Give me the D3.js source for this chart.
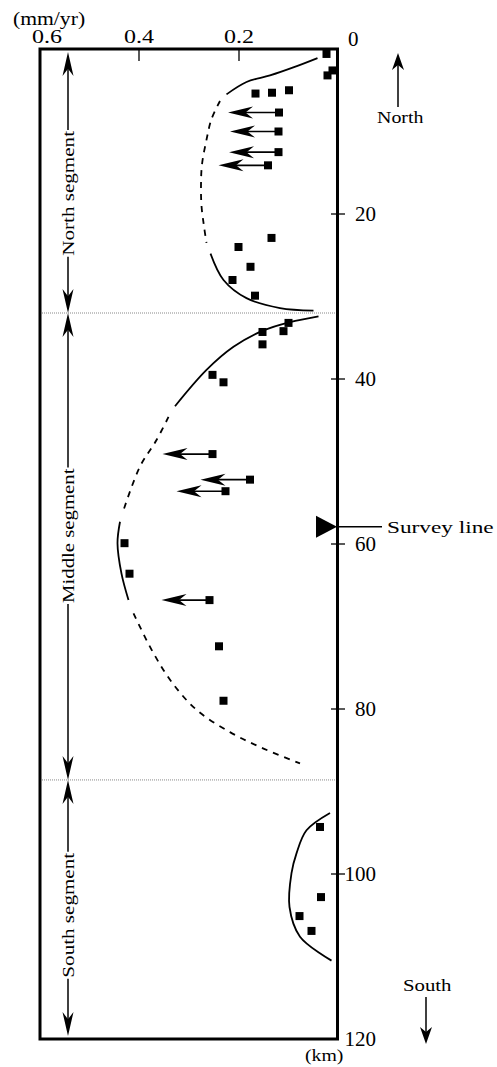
<!DOCTYPE html>
<html lang="en">
<head>
<meta charset="utf-8">
<title>rate profile</title>
<script src="https://d3js.org/d3.v7.min.js"></script>
<style>
html,body {margin:0; padding:0; background:#fff;}
svg {display:block;}
text {font-family:"Liberation Serif", serif; fill:#000;}
</style>
</head>
<body>
<script>
// axes: rate (mm/yr) across the top, distance (km) down the right side
var rateTicks = [0.6, 0.4, 0.2, 0]
var kmTicks = [0, 20, 40, 60, 80, 100, 120]
var segNames = ['North segment', 'Middle segment', 'South segment']
var segBounds = [0, 32, 88.6, 120]
var segLabelKm = [17.5, 59, 105]
var surveyKm = 57.9

// observed points [rate, km]
var squares = [
  [0.025, 0.6], [0.013, 2.6], [0.023, 3.2], [0.167, 5.4], [0.134, 5.3], [0.1, 5.0],
  [0.135, 22.9], [0.201, 24.0], [0.177, 26.4], [0.213, 28.0], [0.168, 29.9],
  [0.101, 33.2], [0.111, 34.2], [0.153, 34.3], [0.153, 35.8], [0.253, 39.5], [0.231, 40.4],
  [0.429, 59.9], [0.419, 63.6], [0.240, 72.4], [0.231, 79.0],
  [0.038, 94.3], [0.036, 102.8], [0.079, 105.1], [0.055, 106.9]
]
// points with arrows [rate, km, rate at arrow tip]
var arrows = [
  [0.12, 7.7, 0.222], [0.121, 10.0, 0.218], [0.121, 12.5, 0.22], [0.142, 14.1, 0.241],
  [0.253, 49.1, 0.353], [0.178, 52.2, 0.277], [0.227, 53.6, 0.325], [0.259, 66.8, 0.355]
]

// fitted curves [rate, km]
var northSolid1 = [[0.043, 1.1], [0.09, 2.2], [0.138, 3.2], [0.185, 4.0], [0.225, 5.5]]
var northDash = [[0.238, 6.3], [0.255, 8.5], [0.265, 11.0], [0.274, 14.0], [0.276, 16.5], [0.275, 19.0], [0.27, 21.5], [0.265, 23.5]]
var northSolid2 = [[0.257, 24.8], [0.231, 28.0], [0.185, 30.2], [0.118, 31.4], [0.051, 31.7]]
var midSolid1 = [[0.041, 32.4], [0.098, 33.1], [0.151, 34.1], [0.211, 36.1], [0.265, 38.9], [0.328, 43.3]]
var midDash1 = [[0.341, 44.6], [0.365, 47.4], [0.398, 50.6], [0.431, 55.9]]
var midSolid2 = [[0.438, 57.3], [0.443, 59.9], [0.435, 63.6], [0.421, 66.8]]
var midDash2 = [[0.411, 68.4], [0.375, 72.8], [0.335, 76.7], [0.285, 80.1], [0.218, 82.8], [0.151, 84.8], [0.078, 86.6]]
var southSolid = [[0.018, 92.6], [0.065, 94.7], [0.085, 97.5], [0.095, 99.9], [0.099, 104.0], [0.078, 107.6], [0.015, 110.5]]

var W = 497, H = 1067
var x = d3.scaleLinear().domain([0.6, 0]).range([39, 339])
var y = d3.scaleLinear().domain([0, 120]).range([49, 1039])

var svg = d3.select('body').append('svg').attr('width', W).attr('height', H)
svg.append('rect').attr('width', W).attr('height', H).attr('fill', '#fff')

// fixed-pitch label in a serif face: each char takes `pitch` px
function label(sel, str, size, pitch) {
  return sel.attr('font-size', size).attr('textLength', str.length * pitch)
    .attr('lengthAdjust', 'spacingAndGlyphs').text(str)
}

// filled arrow head, tip at (tx,ty), pointing along angle a (radians)
function head(tx, ty, a, len, wid) {
  var c = Math.cos(a), s = Math.sin(a)
  function p(u, v) { return [tx - u*c - v*s, ty - u*s + v*c] }
  var pts = [p(0, 0), p(len, -wid/2), p(len*0.7, 0), p(len, wid/2)]
  svg.append('path').attr('d', 'M' + pts.join('L') + 'Z').attr('fill', '#000')
}

// segment boundaries
var x0 = x(0.6), x1 = x(0)
svg.selectAll('.sep').data(segBounds.slice(1, 3)).enter().append('line')
  .attr('x1', x0 + 3).attr('x2', x1 - 2)
  .attr('y1', d => y(d)).attr('y2', d => y(d))
  .attr('stroke', '#888').attr('stroke-width', 1).attr('stroke-dasharray', '1,1')

// frame
svg.append('rect').attr('x', x0 + 1).attr('y', y(0)).attr('width', x1 - x0 - 2.5).attr('height', y(120) - y(0))
  .attr('fill', 'none').attr('stroke', '#000').attr('stroke-width', 3)

// top axis
svg.selectAll('.tt').data(rateTicks.slice(1, 3)).enter().append('line')
  .attr('x1', d => x(d)).attr('x2', d => x(d)).attr('y1', y(0)).attr('y2', y(0) + 12)
  .attr('stroke', '#000').attr('stroke-width', 1.3)
rateTicks.slice(0, 3).forEach(function(d, i) {
  var s = d3.format('.1f')(d)
  label(svg.append('text').attr('x', x(d) + (i === 0 ? 8 : 0) - 15).attr('y', 43), s, 18, 10)
})
svg.append('text').attr('x', 348).attr('y', y(0) - 3).attr('font-size', 21).text('0')
label(svg.append('text').attr('x', 13).attr('y', 25), '(mm/yr)', 18, 10.3)

// right axis
svg.selectAll('.rt').data(kmTicks.slice(1, 6)).enter().append('line')
  .attr('x1', 331).attr('x2', 345).attr('y1', d => y(d)).attr('y2', d => y(d))
  .attr('stroke', '#000').attr('stroke-width', 1.3)
svg.selectAll('.rl').data(kmTicks.slice(1)).enter().append('text')
  .attr('x', 376).attr('y', d => y(d)).attr('dy', '0.34em')
  .attr('text-anchor', 'end').attr('font-size', 21).text(d => d)
label(svg.append('text').attr('x', 305).attr('y', 1061), '(km)', 17, 9.6)

// curves
var line = d3.line().x(d => x(d[0])).y(d => y(d[1])).curve(d3.curveCatmullRom)
;[northSolid1, northSolid2, midSolid1, midSolid2, southSolid].forEach(function(c) {
  svg.append('path').attr('d', line(c)).attr('fill', 'none').attr('stroke', '#000').attr('stroke-width', 1.8)
})
;[northDash, midDash1, midDash2].forEach(function(c) {
  svg.append('path').attr('d', line(c)).attr('fill', 'none').attr('stroke', '#000')
    .attr('stroke-width', 1.8).attr('stroke-dasharray', '6,6')
})

// arrows
arrows.forEach(function(d) {
  svg.append('line').attr('x1', x(d[0])).attr('x2', x(d[2]) + 15).attr('y1', y(d[1])).attr('y2', y(d[1]))
    .attr('stroke', '#000').attr('stroke-width', 1.6)
  head(x(d[2]), y(d[1]), Math.PI, 25, 12)
})

// squares
svg.selectAll('.sq').data(squares.concat(arrows)).enter().append('rect')
  .attr('x', d => x(d[0]) - 4).attr('y', d => y(d[1]) - 4)
  .attr('width', 8).attr('height', 8).attr('fill', '#000')

// segment labels with double arrows
var sx = 68
segNames.forEach(function(name, i) {
  var a = y(segBounds[i]) + (i === 0 ? 3 : 0), b = y(segBounds[i + 1]) - (i === 2 ? 3 : 0)
  var c = y(segLabelKm[i]), half = name.length * 9.6 / 2 + 1
  svg.append('line').attr('x1', sx).attr('x2', sx).attr('y1', a + 10).attr('y2', c - half)
    .attr('stroke', '#000').attr('stroke-width', 1.5)
  svg.append('line').attr('x1', sx).attr('x2', sx).attr('y1', c + half).attr('y2', b - 10)
    .attr('stroke', '#000').attr('stroke-width', 1.5)
  head(sx, a, -Math.PI / 2, 24, 11)
  head(sx, b, Math.PI / 2, 24, 11)
  label(svg.append('text').attr('transform', 'translate(' + (sx + 6) + ',' + (c + half - 1) + ') rotate(-90)'),
    name, 17, 9.6)
})

// survey line marker
var ys = y(surveyKm)
svg.append('path').attr('d', 'M316,' + (ys - 11) + 'L337,' + ys + 'L316,' + (ys + 11) + 'Z').attr('fill', '#000')
svg.append('line').attr('x1', 337).attr('x2', 382).attr('y1', ys).attr('y2', ys)
  .attr('stroke', '#000').attr('stroke-width', 1.5)
label(svg.append('text').attr('x', 387).attr('y', ys + 6), 'Survey line', 17, 9.7)

// north / south arrows
svg.append('line').attr('x1', 398).attr('x2', 398).attr('y1', 65).attr('y2', 107).attr('stroke', '#000').attr('stroke-width', 1.5)
head(398, 53, -Math.PI / 2, 17, 12)
label(svg.append('text').attr('x', 377).attr('y', 123), 'North', 17, 9.3)
label(svg.append('text').attr('x', 403).attr('y', 991), 'South', 17, 9.7)
svg.append('line').attr('x1', 426).attr('x2', 426).attr('y1', 997).attr('y2', 1032).attr('stroke', '#000').attr('stroke-width', 1.5)
head(426, 1044, Math.PI / 2, 17, 12)
</script>
</body>
</html>
